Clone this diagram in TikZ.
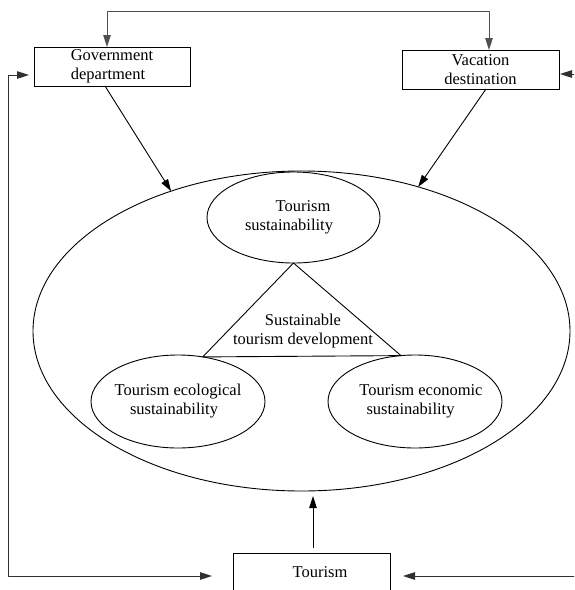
\documentclass[tikz,border=0pt]{standalone}
\usepackage{fontspec}
\setmainfont{Liberation Serif}
\usetikzlibrary{arrows.meta,shapes.geometric,calc}
\definecolor{topgray}{HTML}{505050}
\definecolor{loopgray}{HTML}{303030}
\begin{document}
\begin{tikzpicture}[x=1pt,y=-1pt,
  every node/.style={font=\fontsize{16.5}{19}\selectfont, align=center, inner sep=0pt, outer sep=0pt},
  box/.style={draw, line width=0.9pt, rectangle},
  ell/.style={draw, line width=0.9pt, ellipse},
  ln/.style={line width=0.9pt, line join=round},
  tip/.style={-{Triangle[length=12pt,width=7.5pt]}},
  bitip/.style={{Triangle[length=12pt,width=7.5pt]}-{Triangle[length=12pt,width=7.5pt]}},
]
\useasboundingbox (0,0) rectangle (574,590);
\clip (0,0) rectangle (574,590);

% boxes
\node[box, minimum width=156pt, minimum height=39pt] (gov) at (112,66.5) {Government\\department\hspace*{8pt}};
\node[box, minimum width=157pt, minimum height=39pt] (vac) at (480.5,69.5) {Vacation\\destination};
\node[box, minimum width=157pt, minimum height=38pt] (tour) at (311.5,572) {\hspace*{17pt}Tourism};

% ellipses
\node[ell, minimum width=537pt, minimum height=320pt] (big) at (301.5,331) {};
\node[ell, minimum width=173pt, minimum height=91pt] (ts) at (293.5,217.5) {};
\node[ell, minimum width=174pt, minimum height=93pt] (eco) at (178,401.5) {};
\node[ell, minimum width=174pt, minimum height=93pt] (econ) at (415,401.5) {};

% ellipse texts
\node (tstext) at (293.5,217.5) {\hspace*{19pt}Tourism\\sustainability\hspace*{9pt}};
\node (ecotext) at (178,401.5) {Tourism ecological\\sustainability\hspace*{8pt}};
\node (econtext) at (415,401.5) {\hspace*{12pt}Tourism economic\\sustainability\hspace*{9pt}};

% triangle
\draw[ln] (ts.south) -- (eco.61) -- (econ.107) -- cycle;
\node (std) at (303,331.5) {Sustainable\\tourism development};

% top connector
\coordinate (tl) at (107,11);
\coordinate (tr) at (489,11);
\draw[ln, topgray, tip] (tl) -- (tr) -- (tr |- vac.north);
\draw[ln, topgray, tip] (tl) -- (tl |- gov.north);

% into big ellipse
\draw[ln, tip] ([xshift=-7pt]gov.south) -- (big.133);
\draw[ln, tip] ([xshift=5.5pt]vac.south) -- (big.51);
\coordinate (ua) at ([xshift=1.5pt]tour.north);
\draw[ln, tip, shorten <=5pt, shorten >=5pt] (ua) -- (ua |- big.south);

% left loop
\coordinate (lc) at (8,576);
\draw[ln, loopgray, bitip, shorten <=5pt, shorten >=21pt] ([yshift=-8.5pt]gov.west) -| (lc) -- (lc -| tour.west);

% right incoming arrows
\coordinate (rb) at (580,576);
\draw[ln, loopgray, tip, shorten >=13pt] (rb) -- (rb -| tour.east);
\coordinate (rt) at (580,74);
\draw[ln, loopgray, tip, shorten >=1pt] (rt) -- (rt -| vac.east);
\end{tikzpicture}
\end{document}
